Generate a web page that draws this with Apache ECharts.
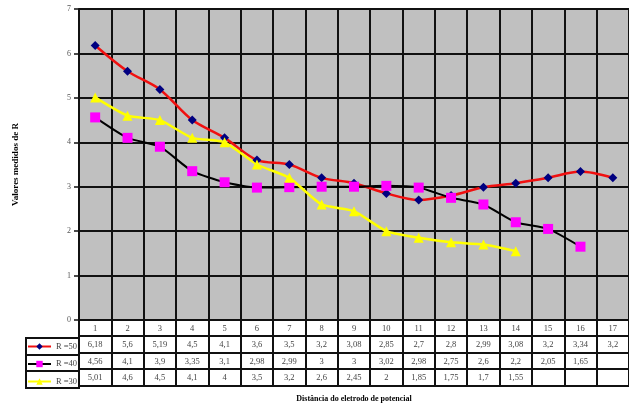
<!DOCTYPE html>
<html>
<head>
<meta charset="utf-8">
<script src="https://cdn.jsdelivr.net/npm/echarts@6/dist/echarts.min.js"></script>
<style>
  html, body { margin: 0; padding: 0; background: #fff; }
  #chart { width: 629px; height: 408px; }
</style>
</head>
<body>
<div id="chart"></div>
<script>
// Distances (categories) and measured values for each R
const categories = ['1','2','3','4','5','6','7','8','9','10','11','12','13','14','15','16','17'];
const seriesNames = ['R =50', 'R =40', 'R =30'];
const r50 = [6.18, 5.6, 5.19, 4.5, 4.1, 3.6, 3.5, 3.2, 3.08, 2.85, 2.7, 2.8, 2.99, 3.08, 3.2, 3.34, 3.2];
const r40 = [4.56, 4.1, 3.9, 3.35, 3.1, 2.98, 2.99, 3, 3, 3.02, 2.98, 2.75, 2.6, 2.2, 2.05, 1.65, null];
const r30 = [5.01, 4.6, 4.5, 4.1, 4, 3.5, 3.2, 2.6, 2.45, 2, 1.85, 1.75, 1.7, 1.55, null, null, null];
const yTicks = [0, 1, 2, 3, 4, 5, 6, 7];

const FONT = '"Liberation Serif", "DejaVu Serif", serif';
const LINE = '#111';
const fmt = v => (v === null || v === undefined) ? '' : String(v).replace('.', ',');

// Table rows are extra category axes stacked below the plot
const rowOffsets = [16, 33, 49];
const rowHeights = [17, 16, 17];
const rowData = [r50, r40, r30];

const baseAxis = {
  type: 'category',
  gridIndex: 0,
  position: 'bottom',
  data: categories,
  boundaryGap: true,
  axisLine: { show: true, onZero: false, lineStyle: { color: LINE, width: 2 } },
  splitLine: { show: false }
};

const xAxes = [Object.assign({}, baseAxis, {
  axisTick: { show: true, interval: 0, length: 16, lineStyle: { color: LINE, width: 2 } },
  axisLabel: { interval: 0, margin: 4, fontSize: 8.5, fontFamily: FONT, color: '#444' },
  splitLine: { show: true, interval: 0, lineStyle: { color: LINE, width: 2 } }
})];

rowData.forEach((row, r) => {
  xAxes.push(Object.assign({}, baseAxis, {
    offset: rowOffsets[r],
    axisTick: { show: true, interval: 0, length: rowHeights[r], lineStyle: { color: LINE, width: 2 } },
    axisLabel: {
      interval: 0, margin: 4, fontSize: 8.5, fontFamily: FONT, color: '#444',
      formatter: (v, i) => fmt(row[i])
    }
  }));
});

// Bottom border of the table, carrying the axis title
xAxes.push(Object.assign({}, baseAxis, {
  offset: 66,
  axisTick: { show: false },
  axisLabel: { show: false },
  name: 'Distância do eletrodo de potencial',
  nameLocation: 'middle',
  nameGap: 9,
  nameTextStyle: { fontSize: 8, fontWeight: 'bold', fontFamily: FONT, color: '#000' }
}));

const chart = echarts.init(document.getElementById('chart'), null, { renderer: 'canvas' });

chart.setOption({
  animation: false,
  backgroundColor: '#fff',
  grid: {
    left: 79, top: 9, width: 557, height: 313,
    show: true, backgroundColor: '#c0c0c0', borderWidth: 0
  },
  legend: {
    orient: 'vertical',
    left: 27, top: 342, padding: 0,
    itemWidth: 23, itemHeight: 8, itemGap: 8.5,
    textStyle: { fontSize: 8.5, fontFamily: FONT, color: '#444' },
    data: seriesNames
  },
  xAxis: xAxes,
  yAxis: {
    type: 'value',
    min: yTicks[0], max: yTicks[yTicks.length - 1], interval: 1,
    axisLine: { show: true, lineStyle: { color: LINE, width: 2 } },
    axisTick: { show: true, length: 5, lineStyle: { color: LINE, width: 1.5 } },
    axisLabel: { margin: 8, fontSize: 8, fontFamily: FONT, color: '#555' },
    splitLine: { show: true, lineStyle: { color: LINE, width: 2 } },
    name: 'Valores medidos de R',
    nameLocation: 'middle',
    nameGap: 59,
    nameTextStyle: { fontSize: 9, fontWeight: 'bold', fontFamily: FONT, color: '#000' }
  },
  graphic: [
    // legend column of the data table
    { type: 'rect', z: 0, shape: { x: 26, y: 338, width: 53, height: 50 },
      style: { fill: '#fff', stroke: LINE, lineWidth: 2 } },
    { type: 'line', z: 1, shape: { x1: 26, y1: 355, x2: 79, y2: 355 },
      style: { stroke: LINE, lineWidth: 2 } },
    { type: 'line', z: 1, shape: { x1: 26, y1: 371, x2: 79, y2: 371 },
      style: { stroke: LINE, lineWidth: 2 } }
  ],
  series: [
    {
      name: seriesNames[0], type: 'line', data: r50, smooth: 0.3,
      symbol: 'diamond', symbolSize: 9,
      lineStyle: { color: '#f01010', width: 2.5 },
      itemStyle: { color: '#000080', borderWidth: 0 }
    },
    {
      name: seriesNames[1], type: 'line', data: r40, smooth: 0.2,
      symbol: 'rect', symbolSize: 10,
      lineStyle: { color: '#000', width: 2 },
      itemStyle: { color: '#ff00ff', borderWidth: 0 }
    },
    {
      name: seriesNames[2], type: 'line', data: r30, smooth: 0.2,
      symbol: 'triangle', symbolSize: 10,
      lineStyle: { color: '#ffff00', width: 2.5 },
      itemStyle: { color: '#ffff00', borderWidth: 0 }
    }
  ]
});
</script>
</body>
</html>
